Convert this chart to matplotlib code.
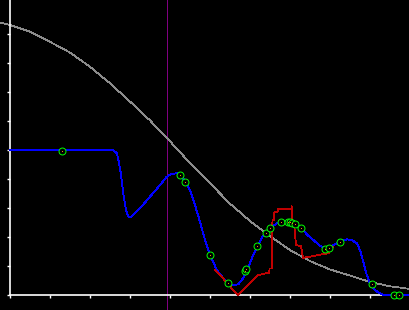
import matplotlib
matplotlib.use("Agg")
import matplotlib.pyplot as plt

# smooth gray reference curve
gray_x = [-0.25, 0.0, 0.5, 1.0, 1.5, 2.0, 2.5, 3.0, 3.5, 4.0, 4.5, 5.0, 5.5,
          6.0, 6.5, 7.0, 7.5, 8.0, 8.5, 9.0, 9.5, 10.0]
gray_y = [9.40, 9.31, 9.08, 8.73, 8.36, 7.87, 7.30, 6.67, 6.02, 5.30, 4.55, 3.85, 3.15,
          2.55, 2.03, 1.55, 1.17, 0.88, 0.67, 0.45, 0.30, 0.21]

# blue curve
blue_x = [0.0, 2.575, 2.67, 2.71, 2.77, 2.83, 2.90, 2.96, 3.02, 3.08, 3.25, 3.5, 3.75,
          3.92, 4.04, 4.17, 4.25, 4.375, 4.5, 4.625, 4.75, 4.875, 5.0, 5.17, 5.33,
          5.46, 5.58, 5.71, 5.83, 5.92, 6.08, 6.18, 6.29, 6.4, 6.5, 6.67, 6.75, 7.0,
          7.17, 7.29, 7.42, 7.58, 7.75, 7.875, 8.0, 8.125, 8.25, 8.42, 8.54, 8.67,
          8.75, 8.83, 8.92, 9.0, 9.08, 9.21, 9.33, 10.0]
blue_y = [5.0, 5.0, 4.89, 4.66, 4.20, 3.51, 2.93, 2.70, 2.67, 2.76, 2.99, 3.39, 3.79,
          4.08, 4.17, 4.20, 4.14, 3.94, 3.62, 3.10, 2.52, 1.90, 1.38, 0.86, 0.58,
          0.42, 0.34, 0.37, 0.58, 0.83, 1.38, 1.67, 1.96, 2.18, 2.30, 2.47, 2.52, 2.55,
          2.44, 2.30, 2.09, 1.90, 1.70, 1.61, 1.64, 1.75, 1.83, 1.92, 1.90, 1.78,
          1.55, 1.15, 0.69, 0.40, 0.23, 0.08, 0.0, 0.0]

# red stepped curve
red_x = [5.125, 5.25, 5.475, 5.69, 5.85, 6.0, 6.21, 6.4, 6.48, 6.49, 6.55, 6.56, 6.6,
         6.61, 6.69, 6.7, 7.04, 7.04, 7.05, 7.1, 7.125, 7.15, 7.275, 7.3, 7.325,
         7.45, 7.825, 7.98, 7.98, 8.07]
red_y = [0.86, 0.69, 0.34, 0.0, 0.21, 0.40, 0.69, 0.75, 0.77, 0.91, 0.91, 2.59, 2.59,
         2.87, 2.87, 2.97, 2.97, 3.07, 2.59, 2.52, 2.10, 1.72, 1.69, 1.48, 1.28,
         1.31, 1.41, 1.44, 1.61, 1.64]

# green markers
pts_x = [1.31, 4.25, 4.375, 4.99, 5.44, 5.875, 5.91, 6.18, 6.41, 6.51, 6.77, 6.94,
         7.0, 7.06, 7.125, 7.275, 7.88, 7.98, 8.25, 9.06, 9.59, 9.73]
pts_y = [4.98, 4.13, 3.91, 1.38, 0.40, 0.84, 0.90, 1.68, 2.15, 2.30, 2.51, 2.53,
         2.51, 2.49, 2.44, 2.30, 1.58, 1.63, 1.82, 0.37, 0.0, 0.0]

vline_x = 3.93
x_ticks = [0, 1, 2, 3, 4, 5, 6, 7, 8, 9]
y_ticks = [0, 1, 2, 3, 4, 5, 6, 7, 8, 9]

fig = plt.figure(figsize=(4.1, 3.1), dpi=100, facecolor="black")
ax = fig.add_axes([0, 0, 1, 1])
ax.set_facecolor("black")

ax.plot(gray_x, gray_y, color="#8c8c8c", lw=0.55, antialiased=False, zorder=2)
ax.axvline(vline_x, color="#800080", lw=0.55, antialiased=False, zorder=1)
ax.plot(blue_x, blue_y, color="#0000ff", lw=0.65, antialiased=False, zorder=3)
ax.plot(red_x, red_y, color="#c00000", lw=0.55, antialiased=False, zorder=4)
ax.plot(pts_x, pts_y, ls="none", marker="o", ms=5.0, mew=0.7, mfc="black",
        mec="#00ff00", antialiased=False, zorder=5)
ax.plot(pts_x, pts_y, ls="none", marker="s", ms=0.7, mew=0, mfc="#00ff00",
        antialiased=False, zorder=6)

ax.set_xlim(-0.25, 10.0)
ax.set_ylim(-15 / 29, 295 / 29)

for side in ["top", "right"]:
    ax.spines[side].set_visible(False)
ax.spines["left"].set_position(("data", 0))
ax.spines["bottom"].set_position(("data", 0))
ax.spines["left"].set_bounds(0, 295 / 29)
ax.spines["bottom"].set_bounds(0, 10.0)
for side in ["left", "bottom"]:
    ax.spines[side].set_color("white")
    ax.spines[side].set_linewidth(1.2)

ax.set_xticks(x_ticks)
ax.set_yticks(y_ticks)
ax.tick_params(colors="white", direction="out", length=2.5, width=1.0,
               labelleft=False, labelbottom=False)

fig.savefig("out.png", dpi=100, facecolor="black")
